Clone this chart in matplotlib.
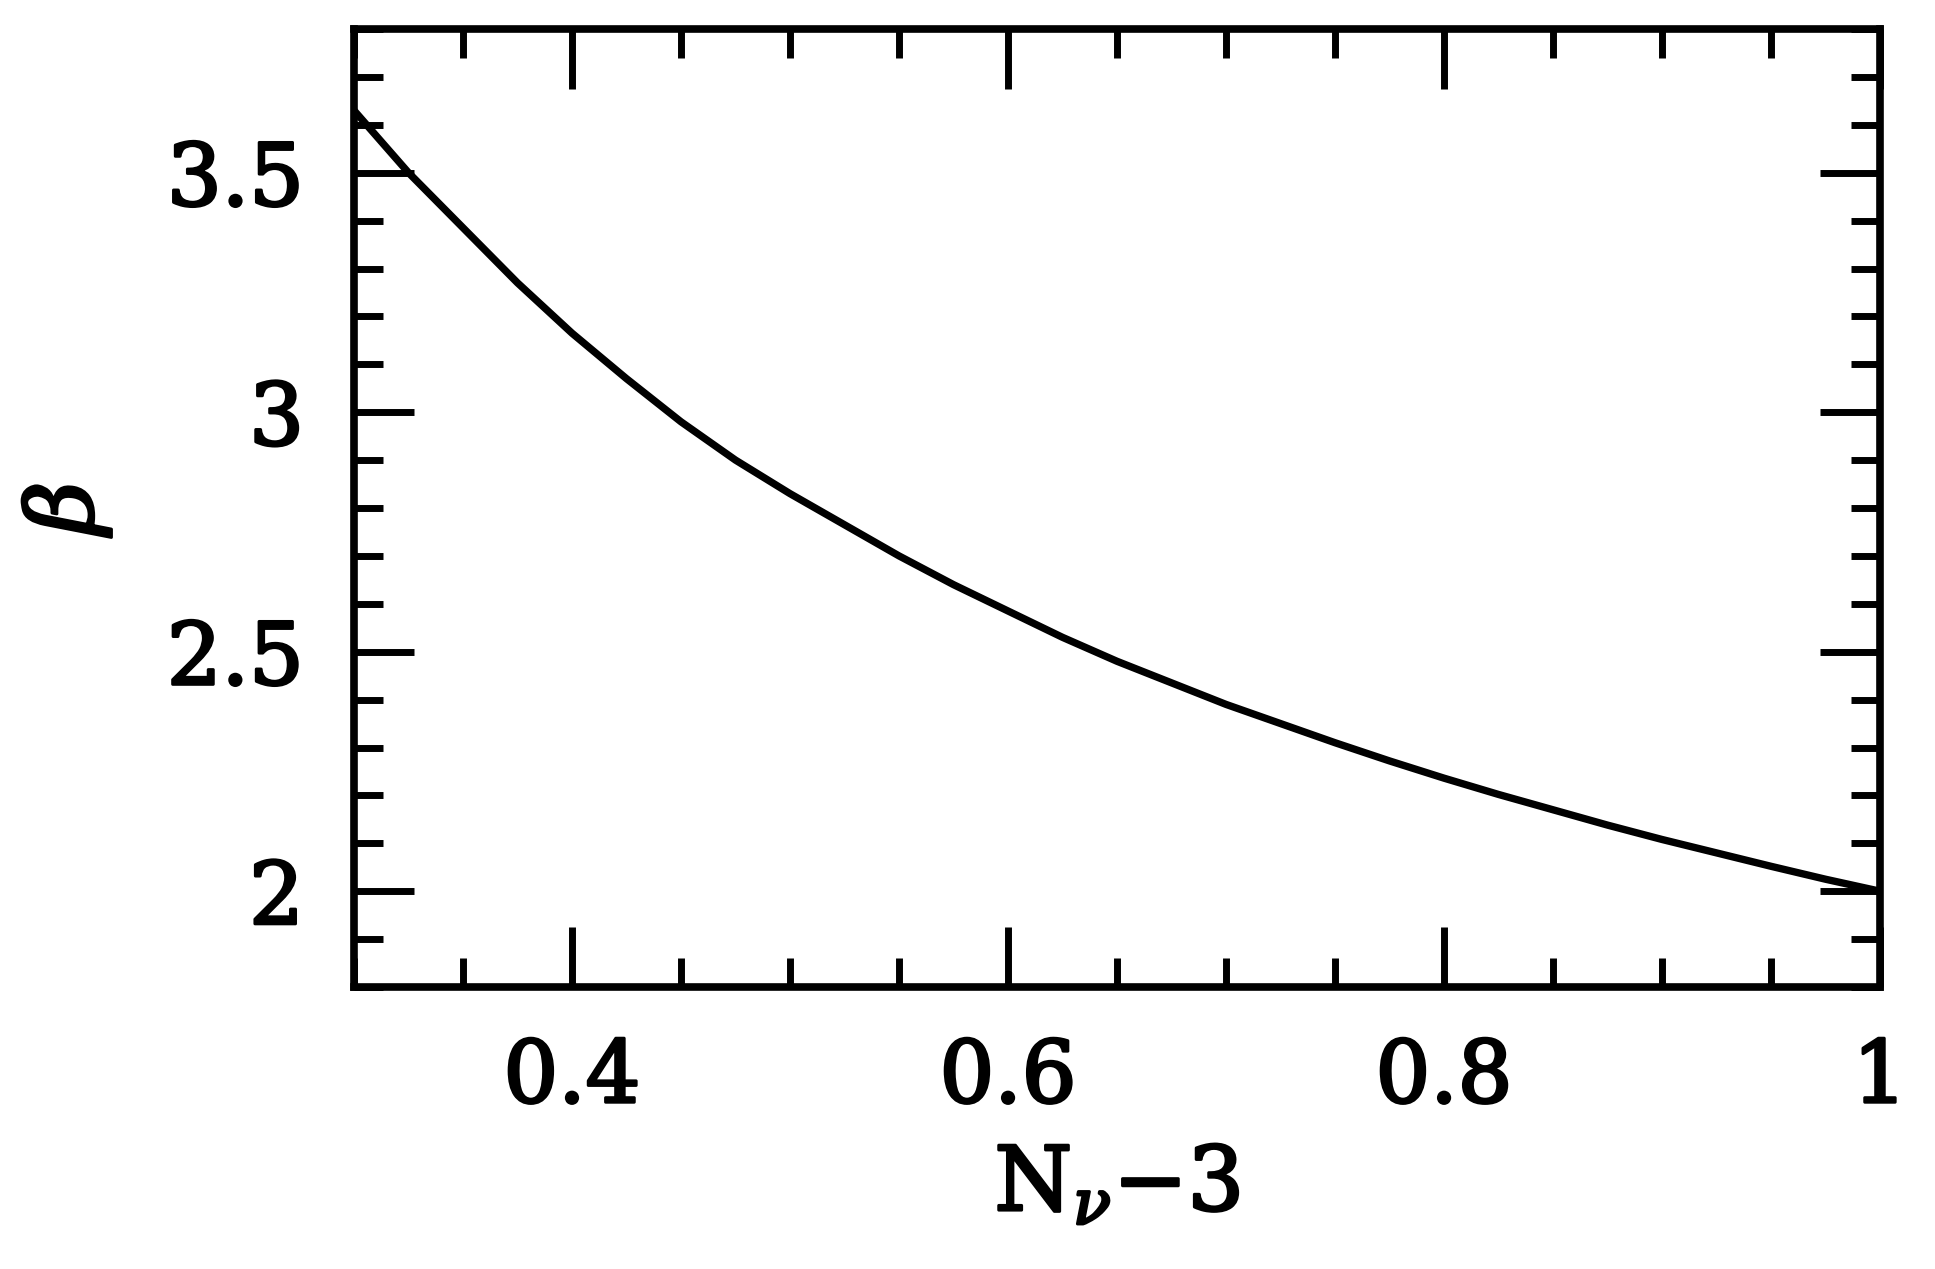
import numpy as np
import matplotlib.pyplot as plt
import matplotlib.patheffects as pe
from matplotlib.ticker import MultipleLocator

# values
n_nu = [0.300, 0.325, 0.350, 0.375, 0.400, 0.425, 0.450, 0.475, 0.500, 0.525,
        0.550, 0.575, 0.600, 0.625, 0.650, 0.675, 0.700, 0.725, 0.750, 0.775,
        0.800, 0.825, 0.850, 0.875, 0.900, 0.925, 0.950, 0.975, 1.000]
beta = [3.63, 3.50, 3.385, 3.27, 3.165, 3.07, 2.98, 2.90, 2.83, 2.765,
        2.70, 2.64, 2.585, 2.53, 2.48, 2.435, 2.39, 2.35, 2.31, 2.272,
        2.236, 2.202, 2.17, 2.138, 2.108, 2.08, 2.052, 2.025, 2.00]

xticks = [0.4, 0.6, 0.8, 1.0]
xticklabels = ['0.4', '0.6', '0.8', '1']
yticks = [2, 2.5, 3, 3.5]
yticklabels = ['2', '2.5', '3', '3.5']

plt.rcParams['font.family'] = ['DejaVu Serif']
plt.rcParams['mathtext.fontset'] = 'dejavuserif'

# thicken the regular glyphs a little (reference uses a heavy stroke font)
thick = [pe.withStroke(linewidth=2.2, foreground='black')]

fig = plt.figure(figsize=(19.35, 12.69), dpi=100)
ax = fig.add_axes([354 / 1935, 1 - 987 / 1269, (1880 - 354) / 1935, (987 - 29) / 1269])

ax.plot(n_nu, beta, color='black', linewidth=5.3, solid_joinstyle='round')

ax.set_xlim(0.3, 1.0)
ax.set_ylim(1.8, 3.8)
ax.xaxis.set_minor_locator(MultipleLocator(0.05))
ax.yaxis.set_minor_locator(MultipleLocator(0.1))
ax.set_xticks(xticks)
ax.set_xticklabels(xticklabels)
ax.set_yticks(yticks)
ax.set_yticklabels(yticklabels)

for s in ax.spines.values():
    s.set_linewidth(5.5)
ax.tick_params(which='both', direction='in', top=True, right=True, width=5.0,
               labelsize=62)
ax.tick_params(which='major', length=43, pad=36)
ax.tick_params(which='minor', length=21)
for lab in ax.get_xticklabels() + ax.get_yticklabels():
    lab.set_path_effects(thick)

xl = ax.set_xlabel(r'N$_\nu$$-$3', fontsize=64, labelpad=16)
yl = ax.set_ylabel('β', fontsize=66, fontstyle='italic', labelpad=40)
xl.set_path_effects(thick)
yl.set_path_effects(thick)

fig.savefig('out.png', dpi=100)
